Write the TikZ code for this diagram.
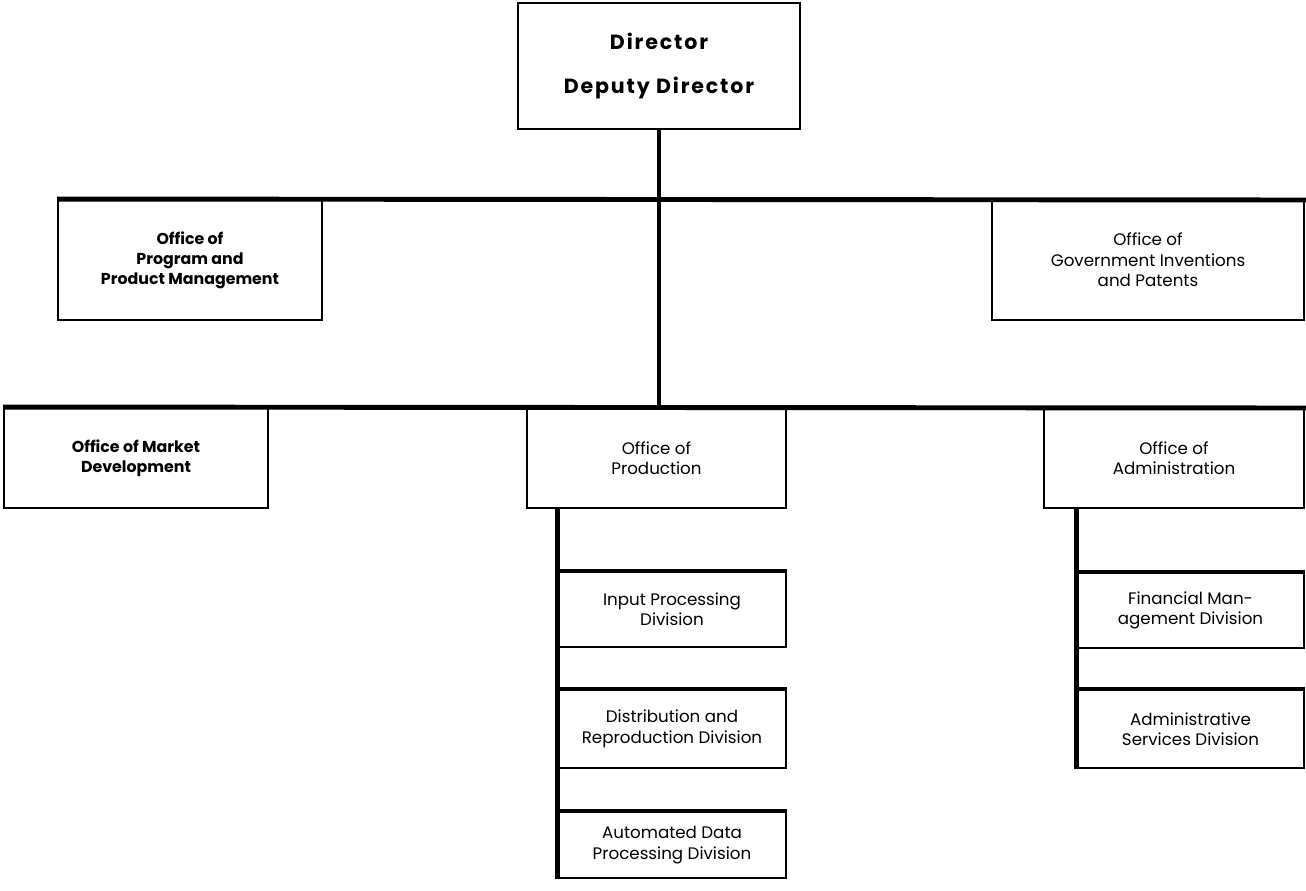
\documentclass[tikz,border=0pt]{standalone}
\usepackage{fontspec}
\setmainfont{Poppins}
\newfontfamily\headfont{Poppins}[LetterSpace=9]
\usepackage{tikz}

\begin{document}
\begin{tikzpicture}[x=0.02cm,y=-0.02cm,
  box/.style={draw,line width=1.1pt,align=center,inner sep=0pt,
    font=\fontsize{9.5}{11.6}\selectfont},
  boldbox/.style={box,font=\fontsize{9}{11.4}\selectfont\bfseries},
  subbox/.style={box,minimum width=4.56cm},
  bar/.style={line width=2.8pt}]

\useasboundingbox (0,0) rectangle (1306,891);

% Director
\node[box,minimum width=5.64cm,minimum height=2.52cm,
  font=\headfont\fontsize{11.7}{25}\selectfont\bfseries] (dir) at (659,66)
  {Director\\Deputy Director};

% staff offices
\node[boldbox,minimum width=5.28cm,minimum height=2.4cm] (prog) at (190,260)
  {Office of\\Program and\\Product Management};
\node[box,minimum width=6.24cm,minimum height=2.4cm] (pat) at (1148,260)
  {Office of\\Government Inventions\\and Patents};

% line offices
\node[boldbox,minimum width=5.28cm,minimum height=2cm] (mkt) at (136,458)
  {Office of Market\\Development};
\node[box,minimum width=5.18cm,minimum height=2cm] (prod) at (656.5,458)
  {Office of\\Production};
\node[box,minimum width=5.2cm,minimum height=2cm] (adm) at (1174,458)
  {Office of\\Administration};

% divisions of production
\node[subbox,minimum height=1.5cm] (inp) at (672,609.5)
  {Input Processing\\Division};
\node[subbox,minimum height=1.56cm] (dist) at (672,729)
  {Distribution and\\Reproduction Division};
\node[subbox,minimum height=1.32cm] (auto) at (672,845)
  {Automated Data\\Processing Division};

% divisions of administration
\node[subbox,minimum width=4.54cm,minimum height=1.5cm] (fin) at (1190.5,610.5)
  {Financial Man-\\agement Division};
\node[subbox,minimum width=4.54cm,minimum height=1.56cm] (svc) at (1190.5,729)
  {Administrative\\Services Division};

% main trunk and bars
\coordinate (barend) at (1306,200);
\coordinate (lowend) at (1306,408);
\draw[bar] (dir.south) -- (dir.south |- mkt.north);
\draw[bar] (prog.north west) -- (barend);
\draw[bar] (mkt.north west) -- (lowend);

% production branch
\draw[bar] (inp.west |- prod.south) -- (auto.south west);
\foreach \n in {inp,dist,auto}
  \draw[bar] (\n.north west) -- (\n.north east);

% administration branch
\draw[bar] (fin.west |- adm.south) -- (svc.south west);
\foreach \n in {fin,svc}
  \draw[bar] (\n.north west) -- (\n.north east);

\end{tikzpicture}
\end{document}
